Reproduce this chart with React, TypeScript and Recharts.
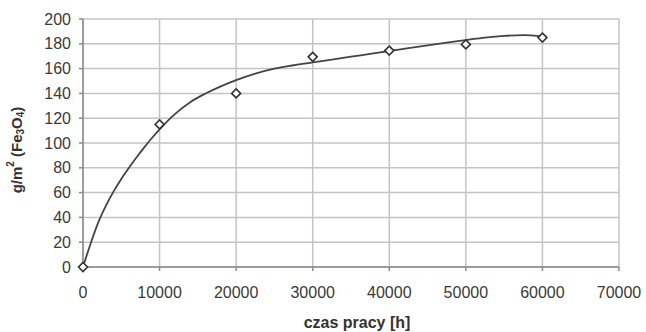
import { CartesianGrid, ComposedChart, Line, Scatter, XAxis, YAxis } from "recharts"

// measured points (diamonds)
const hours = [0, 10000, 20000, 30000, 40000, 50000, 60000]
const mass = [0, 115, 140, 169.5, 174.5, 179.5, 185]

// trend curve
const curveHours = [0, 1000, 2000, 3000, 4000, 5000, 6000, 7000, 8000, 9000, 10000, 11000, 12000, 14000, 16000, 18000, 20000, 22500, 25000, 27500, 30000, 32500, 35000, 37500, 40000, 42500, 45000, 47500, 50000, 52500, 55000, 57500, 60000]
const curveMass = [0, 19, 36, 49.5, 61, 71, 80, 88.5, 96.5, 104, 111, 117.5, 123.3, 132.9, 139.9, 145.7, 150.7, 156, 160, 162.7, 165, 167.3, 169.6, 171.9, 174.2, 176.5, 178.8, 181, 183, 185, 186.4, 187, 186]

const xTicks = [0, 10000, 20000, 30000, 40000, 50000, 60000, 70000]
const yTicks = [0, 20, 40, 60, 80, 100, 120, 140, 160, 180, 200]

const points = hours.map((h, i) => ({ x: h, y: mass[i] }))
const curve = curveHours.map((h, i) => ({ x: h, y: curveMass[i] }))

const font = "'Liberation Sans', Arial, sans-serif"

const Diamond = (props: any) => {
  const { cx, cy } = props
  const r = 4.5
  return (
    <polygon
      points={`${cx},${cy - r} ${cx + r},${cy} ${cx},${cy + r} ${cx - r},${cy}`}
      fill="#fff"
      stroke="#333"
      strokeWidth={1.6}
    />
  )
}

const YLabel = (props: any) => {
  const { viewBox } = props
  const cx = viewBox.x - 27
  const cy = viewBox.y + viewBox.height / 2 + 7
  return (
    <text
      x={cx}
      y={cy}
      transform={`rotate(-90, ${cx}, ${cy})`}
      textAnchor="middle"
      dominantBaseline="central"
      fontFamily={font}
      fontWeight="bold"
      fontSize={15}
      fill="#333"
    >
      g/m
      <tspan dy={-6} fontSize={10}>2</tspan>
      <tspan dy={6}> (Fe</tspan>
      <tspan dy={4} fontSize={10}>3</tspan>
      <tspan dy={-4}>O</tspan>
      <tspan dy={4} fontSize={10}>4</tspan>
      <tspan dy={-4}>)</tspan>
    </text>
  )
}

const XLabel = (props: any) => {
  const { viewBox } = props
  return (
    <text
      x={viewBox.x + viewBox.width / 2 + 6}
      y={328}
      textAnchor="middle"
      fontFamily={font}
      fontWeight="bold"
      fontSize={16}
      fill="#333"
    >
      czas pracy [h]
    </text>
  )
}

export default function App() {
  return (
    <div style={{ position: "absolute", left: 0, top: 0, background: "#fff" }}>
      <ComposedChart
        width={646}
        height={332}
        margin={{ top: 19, right: 27, left: 43, bottom: 35 }}
      >
        <CartesianGrid stroke="#c4c4c4" strokeWidth={1.5} />
        <XAxis
          dataKey="x"
          type="number"
          domain={[0, 70000]}
          ticks={xTicks}
          height={30}
          tickSize={4}
          tickMargin={16}
          stroke="#8a8a8a"
          strokeWidth={1.5}
          tick={{ fill: "#3a3a3a", fontSize: 16, fontFamily: font }}
          label={<XLabel />}
        />
        <YAxis
          dataKey="y"
          type="number"
          domain={[0, 200]}
          ticks={yTicks}
          width={40}
          tickSize={4}
          tickMargin={8}
          stroke="#8a8a8a"
          strokeWidth={1.5}
          tick={{ fill: "#3a3a3a", fontSize: 16, fontFamily: font }}
          label={<YLabel />}
        />
        <Line
          data={curve}
          dataKey="y"
          type="monotone"
          stroke="#444"
          strokeWidth={1.8}
          dot={false}
          isAnimationActive={false}
        />
        <Scatter
          data={points}
          dataKey="y"
          shape={<Diamond />}
          isAnimationActive={false}
        />
      </ComposedChart>
    </div>
  )
}
